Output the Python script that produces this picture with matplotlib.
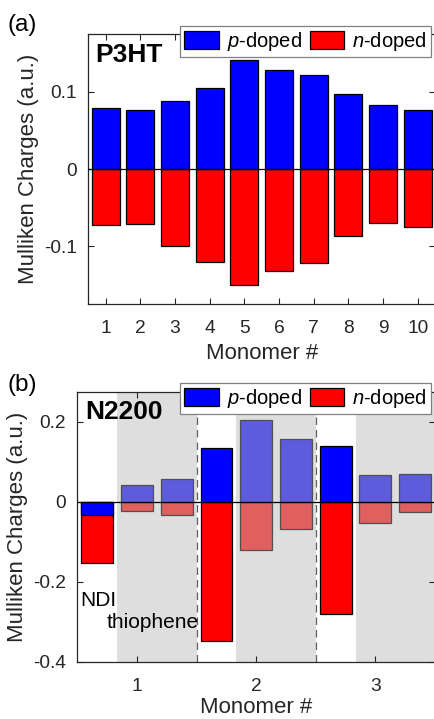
import matplotlib
matplotlib.use("Agg")
import matplotlib.pyplot as plt
import numpy as np

plt.rcParams["font.family"] = ["Liberation Sans", "DejaVu Sans"]
plt.rcParams["mathtext.fontset"] = "custom"
plt.rcParams["mathtext.rm"] = "Liberation Sans"
plt.rcParams["mathtext.it"] = "Liberation Sans:italic"

TEXT = "#262626"

# (a) P3HT, one bar per monomer
P3HT_MONOMER = [1, 2, 3, 4, 5, 6, 7, 8, 9, 10]
P3HT_P = [0.079, 0.076, 0.088, 0.105, 0.141, 0.128, 0.1225, 0.097, 0.083, 0.076]
P3HT_N = [-0.073, -0.071, -0.100, -0.120, -0.150, -0.132, -0.122, -0.0875, -0.0705, -0.075]

# (b) N2200, three units per monomer (NDI, thiophene, thiophene)
N2200_UNIT = [1, 2, 3, 4, 5, 6, 7, 8, 9]
N2200_IS_NDI = [True, False, False, True, False, False, True, False, False]
N2200_P = [-0.032, 0.043, 0.058, 0.135, 0.205, 0.1575, 0.1385, 0.066, 0.070]
N2200_N = [-0.153, -0.023, -0.033, -0.348, -0.121, -0.069, -0.2815, -0.0525, -0.0265]
N2200_TICKS = [2, 5, 8]
N2200_TICKLABELS = ["1", "2", "3"]
THIOPHENE_SPANS = [(1.5, 3.5), (4.5, 6.5), (7.5, 9.5)]
MONOMER_BOUNDS = [3.5, 6.5]

BLUE, RED = "#0000ff", "#ff0000"
BLUE_T, RED_T = "#5c5cdc", "#e06060"


def style_axes(ax, labelpad=4):
    for s in ax.spines.values():
        s.set_color(TEXT)
        s.set_linewidth(0.9)
    ax.tick_params(direction="in", length=4, width=0.8, colors=TEXT,
                   labelsize=13.8, top=True, right=True, pad=8)
    ax.tick_params(axis="x", pad=11.5)
    ax.set_xlabel("Monomer #", fontsize=16, color=TEXT, labelpad=labelpad)
    ax.set_ylabel("Mulliken Charges (a.u.)", fontsize=16, color=TEXT)


def add_legend(ax, handles):
    leg = ax.legend(handles, [r"$\it{p}$-doped", r"$\it{n}$-doped"], ncol=2,
                    loc="upper right", bbox_to_anchor=(0.988, 1.031),
                    borderaxespad=0, fontsize=14.5, handlelength=1.7,
                    handleheight=1.0, handletextpad=0.4, columnspacing=0.4,
                    borderpad=0.2, fancybox=False, framealpha=1,
                    edgecolor="#808080")
    leg.get_frame().set_linewidth(0.9)
    leg.set_zorder(10)


fig = plt.figure(figsize=(4.35, 7.19), dpi=100)

# ---- (a) P3HT
ax1 = fig.add_axes([0.203, 0.5772, 0.797, 0.3755])
hn = ax1.bar(P3HT_MONOMER, P3HT_N, width=0.8, color=RED, edgecolor="black",
             linewidth=0.9, zorder=2)
hp = ax1.bar(P3HT_MONOMER, P3HT_P, width=0.8, color=BLUE, edgecolor="black",
             linewidth=0.9, zorder=2)
ax1.axhline(0, color="black", linewidth=0.9, zorder=3)
ax1.set_xlim(0.5, 10.5)
ax1.set_ylim(-0.175, 0.175)
ax1.set_xticks(P3HT_MONOMER)
ax1.set_yticks([-0.1, 0, 0.1])
ax1.set_yticklabels(["-0.1", "0", "0.1"])
style_axes(ax1)
ax1.text(0.70, 0.148, "P3HT", fontsize=19, fontweight="bold", va="center",
         ha="left", color="black", zorder=5)
add_legend(ax1, [hp, hn])
fig.text(0.018, 0.965, "(a)", fontsize=17.5, va="center", ha="left", color="black")

# ---- (b) N2200
ax2 = fig.add_axes([0.1777, 0.0797, 0.8223, 0.3755])
for lo, hi in THIOPHENE_SPANS:
    ax2.axvspan(lo, hi, color="#dedede", zorder=0, linewidth=0)
for xb in MONOMER_BOUNDS:
    ax2.axvline(xb, color="#606060", linewidth=0.9, linestyle=(0, (6, 4)), zorder=1)

x = np.array(N2200_UNIT)
ndi = np.array(N2200_IS_NDI)
pn = np.array(N2200_P)
nn = np.array(N2200_N)
ax2.bar(x[~ndi], nn[~ndi], width=0.8, color=RED_T, edgecolor="#505050",
        linewidth=0.9, zorder=2)
ax2.bar(x[~ndi], pn[~ndi], width=0.8, color=BLUE_T, edgecolor="#505050",
        linewidth=0.9, zorder=2)
hn2 = ax2.bar(x[ndi], nn[ndi], width=0.8, color=RED, edgecolor="black",
              linewidth=0.9, zorder=2)
hp2 = ax2.bar(x[ndi], pn[ndi], width=0.8, color=BLUE, edgecolor="black",
              linewidth=0.9, zorder=2)
ax2.axhline(0, color="black", linewidth=0.9, zorder=3)
ax2.set_xlim(0.5, 9.5)
ax2.set_ylim(-0.4, 0.275)
ax2.set_xticks(N2200_TICKS)
ax2.set_xticklabels(N2200_TICKLABELS)
ax2.set_yticks([-0.4, -0.2, 0, 0.2])
ax2.set_yticklabels(["-0.4", "-0.2", "0", "0.2"])
style_axes(ax2, labelpad=2)
ax2.text(0.71, 0.225, "N2200", fontsize=19, fontweight="bold", va="center",
         ha="left", color="black", zorder=5)
ax2.text(0.58, -0.248, "NDI", fontsize=15, va="center", ha="left", color="black", zorder=5)
ax2.text(1.23, -0.302, "thiophene", fontsize=15, va="center", ha="left",
         color="black", zorder=5)
add_legend(ax2, [hp2, hn2])
fig.text(0.018, 0.465, "(b)", fontsize=17.5, va="center", ha="left", color="black")

fig.savefig("out.png", dpi=100)
